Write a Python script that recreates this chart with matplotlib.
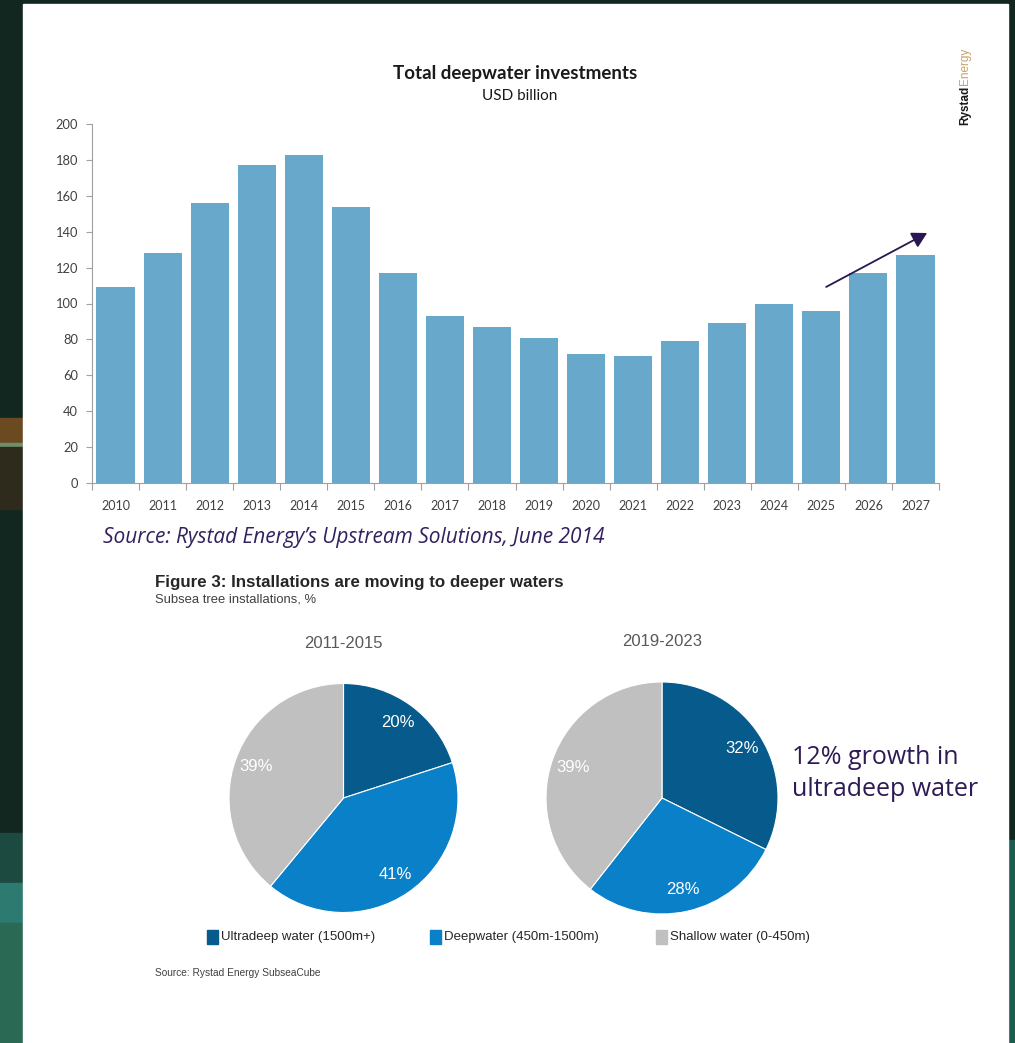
import matplotlib
matplotlib.use("Agg")
import matplotlib.pyplot as plt
from matplotlib.patches import Rectangle
import numpy as np

# ---------------- data ----------------
years = ["2010", "2011", "2012", "2013", "2014", "2015", "2016", "2017", "2018",
         "2019", "2020", "2021", "2022", "2023", "2024", "2025", "2026", "2027"]
investments = [109, 128, 156, 177, 183, 154, 117, 93, 87, 81, 72, 71, 79, 89, 99.5, 96, 117, 127]
y_ticks = [0, 20, 40, 60, 80, 100, 120, 140, 160, 180, 200]

categories = ["Ultradeep water (1500m+)", "Deepwater (450m-1500m)", "Shallow water (0-450m)"]
period_1 = "2011-2015"
share_1 = [20, 41, 39]
period_2 = "2019-2023"
share_2 = [32, 28, 39]

# ---------------- figure ----------------
W, H = 1015, 1043
fig = plt.figure(figsize=(W / 100, H / 100), dpi=100)
fig.patch.set_facecolor("#11271f")

def fx(px):
    return px / W

def fy(py):
    return 1 - py / H

# background decoration
bg = fig.add_axes([0, 0, 1, 1], zorder=-10)
bg.set_xlim(0, W)
bg.set_ylim(H, 0)
bg.axis("off")
bg.add_patch(Rectangle((0, 0), W, H, color="#11271f"))
bg.add_patch(Rectangle((0, 418), 23, 25, color="#6b4a22"))
bg.add_patch(Rectangle((0, 443), 23, 4, color="#6f8f6a"))
bg.add_patch(Rectangle((0, 447), 23, 62, color="#2e2a1c"))
bg.add_patch(Rectangle((0, 833), 23, 50, color="#1d4a40"))
bg.add_patch(Rectangle((0, 883), 23, 40, color="#2c7a70"))
bg.add_patch(Rectangle((0, 923), 23, 120, color="#2a6a55"))
bg.add_patch(Rectangle((1008, 840), 7, 203, color="#1f5c50"))
# white panel
bg.add_patch(Rectangle((23, 4), 1008 - 23, H - 4, color="white"))

# ---------------- bar chart ----------------
ax = fig.add_axes([fx(92), fy(483), fx(939) - fx(92), fy(124) - fy(483)])
x = np.arange(len(years))
ax.bar(x, investments, width=0.81, color="#67a8cb")
ax.set_xlim(-0.5, len(years) - 0.5)
ax.set_ylim(0, 200)
ax.set_yticks(y_ticks)
ax.set_yticklabels([str(v) for v in y_ticks], fontsize=9.3, family="Lato", color="#404040")
ax.set_xticks(x)
ax.set_xticklabels(years, fontsize=9, family="Lato", color="#404040")
ax.tick_params(axis="x", which="major", length=0, pad=12)
ax.set_xticks(np.arange(len(years) + 1) - 0.5, minor=True)
ax.tick_params(axis="x", which="minor", length=5, color="#a0a0a0", width=0.8)
ax.tick_params(axis="y", length=4, color="#a0a0a0", width=0.8, pad=6)
for s in ["top", "right"]:
    ax.spines[s].set_visible(False)
for s in ["left", "bottom"]:
    ax.spines[s].set_color("#a0a0a0")
    ax.spines[s].set_linewidth(0.8)
ax.set_facecolor("none")

ax.annotate("", xy=(17.3, 140), xytext=(15.05, 108.5),
            arrowprops=dict(arrowstyle="-|>,head_length=0.9,head_width=0.5",
                            color="#2a1650", lw=1.3))

fig.text(fx(515), fy(74), "Total deepwater investments", ha="center", va="center",
         fontsize=13.5, fontweight="bold", family="Lato", color="#1a1a1a")
fig.text(fx(520), fy(96), "USD billion", ha="center", va="center",
         fontsize=11, family="Lato", color="#1a1a1a")

# Rystad logo
t1 = fig.text(fx(965), fy(125), "Rystad", rotation=90, ha="center", va="bottom",
              fontsize=8.5, fontweight="bold", family="Liberation Sans", color="#1a1a1a")
fig.canvas.draw()
bb = t1.get_window_extent()
fig.text(fx(965), bb.y1 / H + 0.0005, "Energy", rotation=90, ha="center", va="bottom",
         fontsize=8.5, family="Liberation Sans", color="#c9a068")

# Source line
fig.text(fx(103), fy(537), "Source: Rystad Energy\u2019s Upstream Solutions, June 2014",
         ha="left", va="center", fontsize=15, style="italic", family="Open Sans",
         color="#33205e")

# ---------------- pies ----------------
fig.text(fx(155), fy(582), "Figure 3: Installations are moving to deeper waters",
         ha="left", va="center", fontsize=12.2, fontweight="bold", family="Liberation Sans",
         color="#262626")
fig.text(fx(155), fy(600), "Subsea tree installations, %", ha="left", va="center",
         fontsize=9.4, family="Liberation Sans", color="#404040")

pie_colors = ["#075a8c", "#0a80c8", "#c0c0c0"]

def draw_pie(cx, cy, r, values, title, ty):
    pax = fig.add_axes([fx(cx - r), fy(cy + r), fx(2 * r), fy(cy - r) - fy(cy + r)])
    wedges, texts, autotexts = pax.pie(
        values, colors=pie_colors, startangle=90, counterclock=False,
        autopct=lambda p: f"{p:.0f}%", pctdistance=0.81,
        wedgeprops=dict(edgecolor="white", linewidth=0.8),
        textprops=dict(color="white", fontsize=12, family="Liberation Sans"))
    pax.set_aspect("equal")
    pax.set_xlim(-1, 1)
    pax.set_ylim(-1, 1)
    fig.text(fx(cx), fy(ty), title, ha="center", va="center", fontsize=12,
             family="Liberation Sans", color="#595959")

draw_pie(343.5, 798, 114.5, share_1, period_1, 644)
draw_pie(662, 798, 116, share_2, period_2, 641)

# legend
leg_x = [207, 430, 656]
for lx, lab, col in zip(leg_x, categories, pie_colors):
    bg.add_patch(Rectangle((lx, 930), 11, 14, color=col))
    fig.text(fx(lx + 14), fy(937), lab, ha="left", va="center", fontsize=9.5,
             family="Liberation Sans", color="#262626")

fig.text(fx(155), fy(973), "Source: Rystad Energy SubseaCube", ha="left", va="center",
         fontsize=7.3, family="Liberation Sans", color="#404040")

fig.text(fx(792), fy(757), "12% growth in", ha="left", va="center", fontsize=18,
         family="Open Sans", color="#2e1a55")
fig.text(fx(792), fy(789), "ultradeep water", ha="left", va="center", fontsize=18,
         family="Open Sans", color="#2e1a55")

fig.savefig("out.png", dpi=100, facecolor=fig.get_facecolor())
